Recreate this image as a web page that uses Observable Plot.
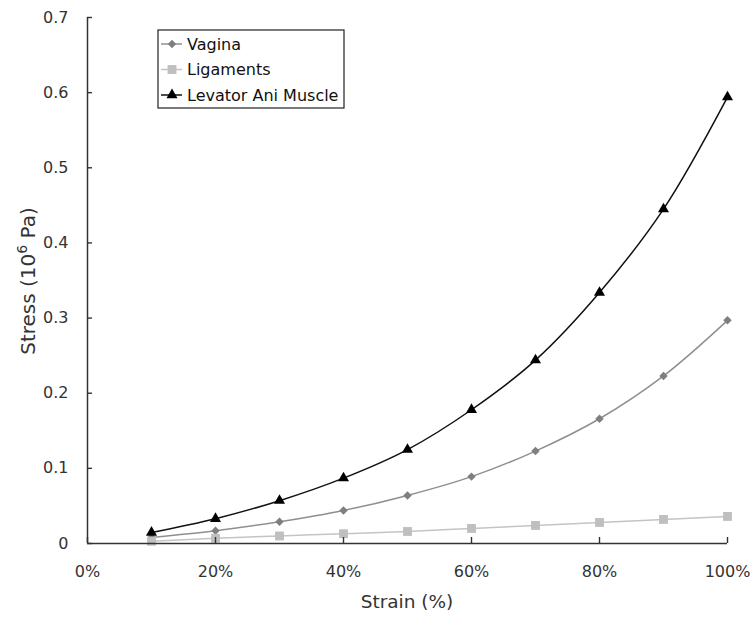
<!DOCTYPE html>
<html>
<head>
<meta charset="utf-8">
<script src="https://cdn.jsdelivr.net/npm/d3@7"></script>
<script src="https://cdn.jsdelivr.net/npm/@observablehq/plot@0.6"></script>
<style>
  body { margin: 0; background: #fff; }
  #chart { position: relative; width: 755px; height: 618px; }
</style>
</head>
<body>
<div id="chart"></div>
<script>
const strain = [10, 20, 30, 40, 50, 60, 70, 80, 90, 100];
const vagina = [0.008, 0.017, 0.029, 0.044, 0.064, 0.089, 0.123, 0.166, 0.223, 0.297];
const ligaments = [0.003, 0.007, 0.010, 0.013, 0.016, 0.020, 0.024, 0.028, 0.032, 0.036];
const levator = [0.0147, 0.033, 0.057, 0.087, 0.125, 0.178, 0.244, 0.334, 0.445, 0.594];
const seriesNames = ["Vagina", "Ligaments", "Levator Ani Muscle"];
const xTicks = [0, 20, 40, 60, 80, 100];
const yTicks = [0, 0.1, 0.2, 0.3, 0.4, 0.5, 0.6, 0.7];

const styles = {
  "Vagina": {line: "#8f8f8f", fill: "#7f7f7f", symbol: "diamond2", r: 3.8},
  "Ligaments": {line: "#c4c4c4", fill: "#bfbfbf", symbol: "square", r: 5.0},
  "Levator Ani Muscle": {line: "#111", fill: "#000", symbol: "triangle", r: 4.1}
};
const values = [vagina, ligaments, levator];
const rows = [];
seriesNames.forEach((s, i) => strain.forEach((x, j) => rows.push({series: s, x, y: values[i][j]})));

const marks = [];
for (const s of seriesNames) {
  const d = rows.filter(r => r.series === s);
  const st = styles[s];
  marks.push(Plot.line(d, {x: "x", y: "y", stroke: st.line, strokeWidth: 1.5, curve: "catmull-rom"}));
  marks.push(Plot.dot(d, {x: "x", y: "y", fill: st.fill, symbol: () => st.symbol, r: st.r, stroke: "none"}));
}

const plot = Plot.plot({
  width: 755,
  height: 618,
  marginLeft: 87,
  marginRight: 28,
  marginTop: 17,
  marginBottom: 75,
  style: {fontFamily: "DejaVu Sans", fontSize: "16px", color: "#333", background: "#fff"},
  x: {domain: [0, 100]},
  y: {domain: [0, 0.7]},
  marks: [
    ...marks,
    // tick labels
    Plot.axisX({ticks: xTicks, tickFormat: d => d + "%", tickSize: 0, tickPadding: 22, label: null, fill: "#333", fontSize: 16}),
    Plot.axisY({ticks: yTicks, tickFormat: d => d === 0 ? "0" : d.toFixed(1), tickSize: 0, tickPadding: 19, label: null, fill: "#333", fontSize: 16}),
    // inward tick marks
    Plot.ruleX(xTicks, {x: d => d, y1: 0, y2: 0, insetTop: -6, stroke: "#333", strokeWidth: 1.4}),
    Plot.ruleY(yTicks, {y: d => d, x1: 0, x2: 0, insetRight: -5, stroke: "#333", strokeWidth: 1.4}),
    Plot.ruleY([0], {stroke: "#333", strokeWidth: 1.5}),
    Plot.ruleX([0], {stroke: "#333", strokeWidth: 1.5})
  ]
});
document.getElementById("chart").appendChild(plot);

const svg = d3.select(plot);
// axis titles
svg.append("text").attr("x", 407).attr("y", 608).attr("text-anchor", "middle")
  .attr("font-family", "DejaVu Sans").attr("font-size", 18.5).attr("fill", "#333").text("Strain (%)");
const yt = svg.append("text").attr("transform", "translate(35,281) rotate(-90)").attr("text-anchor", "middle")
  .attr("font-family", "DejaVu Sans").attr("font-size", 20).attr("fill", "#333");
yt.append("tspan").text("Stress (10");
yt.append("tspan").attr("dy", -8).attr("font-size", 14).text("6");
yt.append("tspan").attr("dy", 8).text(" Pa)");

// legend
const lg = svg.append("g").attr("text-anchor", "start");
lg.append("rect").attr("x", 158).attr("y", 30).attr("width", 186).attr("height", 78)
  .attr("fill", "#fff").attr("stroke", "#222").attr("stroke-width", 1.2);
const symTypes = {diamond2: d3.symbolDiamond2, square: d3.symbolSquare, triangle: d3.symbolTriangle};
seriesNames.forEach((s, i) => {
  const st = styles[s];
  const cy = 44 + i * 25.5;
  lg.append("line").attr("x1", 161).attr("x2", 182).attr("y1", cy).attr("y2", cy)
    .attr("stroke", st.line).attr("stroke-width", 1.5);
  lg.append("path").attr("transform", `translate(172,${cy})`)
    .attr("d", d3.symbol(symTypes[st.symbol], st.r * st.r * Math.PI)()).attr("fill", st.fill);
  lg.append("text").attr("x", 187).attr("y", cy).attr("dy", "0.35em").attr("text-anchor", "start")
    .attr("font-family", "DejaVu Sans").attr("font-size", 16).attr("fill", "#111").text(s);
});
</script>
</body>
</html>
